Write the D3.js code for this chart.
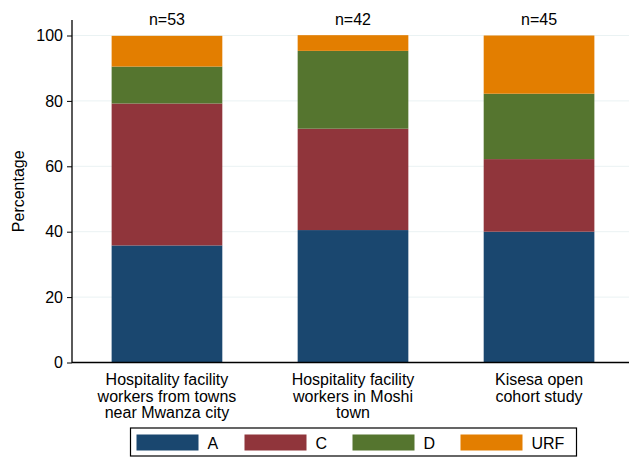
<!DOCTYPE html>
<html>
<head>
<meta charset="utf-8">
<script src="https://cdn.jsdelivr.net/npm/d3@7"></script>
<style>
  body { margin: 0; background: #fff; }
  text { font-family: "Liberation Sans", Arial, sans-serif; fill: #000; }
</style>
</head>
<body>
<script>
// Categories (lines of each axis label) and sample sizes
const groups = ['g1', 'g2', 'g3'];
const groupLabels = [
    ['Hospitality facility', 'workers from towns', 'near Mwanza city'],
    ['Hospitality facility', 'workers in Moshi', 'town'],
    ['Kisesa open', 'cohort study']
];
const sampleSizes = ['n=53', 'n=42', 'n=45'];

// Series (percentages per group)
const seriesNames = ['A', 'C', 'D', 'URF'];
const valuesA = [35.8, 40.5, 40.0];
const valuesC = [43.4, 31.0, 22.2];
const valuesD = [11.3, 23.8, 20.0];
const valuesURF = [9.4, 4.8, 17.8];
const yTicks = [0, 20, 40, 60, 80, 100];

const colors = ['#1a476f', '#90353b', '#55752f', '#e37e00'];

const W = 629, H = 457;
const margin = { top: 20, right: 0, bottom: 95, left: 72 };

const svg = d3.select('body').append('svg')
    .attr('width', W)
    .attr('height', H);

const rows = groups.map((g, i) => ({
    group: g,
    A: valuesA[i], C: valuesC[i], D: valuesD[i], URF: valuesURF[i]
}));
const stacked = d3.stack().keys(seriesNames)(rows);

const x = d3.scaleBand()
    .domain(groups)
    .range([72, 634])
    .paddingInner(0.405)
    .paddingOuter(0.213);

const y = d3.scaleLinear()
    .domain([0, 100])
    .range([362.5, 35.5]);

// gridlines
svg.append('g')
    .selectAll('line')
    .data(yTicks.filter(d => d > 0))
    .enter()
    .append('line')
    .attr('x1', margin.left)
    .attr('x2', W)
    .attr('y1', d => y(d))
    .attr('y2', d => y(d))
    .attr('stroke', '#eaf2f3')
    .attr('stroke-width', 1);

// bars
svg.append('g')
    .selectAll('g')
    .data(stacked)
    .enter()
    .append('g')
    .attr('fill', (d, i) => colors[i])
    .selectAll('rect')
    .data(d => d)
    .enter()
    .append('rect')
    .attr('x', d => x(d.data.group))
    .attr('y', d => y(d[1]))
    .attr('width', x.bandwidth())
    .attr('height', d => y(d[0]) - y(d[1]));

// y axis
const yAxis = svg.append('g')
    .attr('transform', `translate(${margin.left},0)`)
    .call(d3.axisLeft(y).tickValues(yTicks).tickSize(5).tickPadding(4));
yAxis.select('.domain').remove();
yAxis.selectAll('.tick line').attr('stroke', '#000');
yAxis.selectAll('.tick text')
    .style('font-family', '"Liberation Sans", Arial, sans-serif')
    .style('font-size', '16px')
    .attr('fill', '#000');

svg.append('line')
    .attr('x1', margin.left).attr('x2', margin.left)
    .attr('y1', 20).attr('y2', y(0) + 0.5)
    .attr('stroke', '#000').attr('stroke-width', 1.3);

svg.append('line')
    .attr('x1', margin.left).attr('x2', W)
    .attr('y1', y(0)).attr('y2', y(0))
    .attr('stroke', '#000').attr('stroke-width', 1.3);

svg.append('text')
    .attr('transform', `translate(24, ${(20 + 362.5) / 2}) rotate(-90)`)
    .attr('text-anchor', 'middle')
    .style('font-size', '16px')
    .text('Percentage');

// n labels
svg.append('g')
    .selectAll('text')
    .data(groups)
    .enter()
    .append('text')
    .attr('x', d => x(d) + x.bandwidth() / 2)
    .attr('y', 25)
    .attr('text-anchor', 'middle')
    .style('font-size', '16px')
    .text((d, i) => sampleSizes[i]);

// category labels
const cat = svg.append('g')
    .selectAll('text')
    .data(groups)
    .enter()
    .append('text')
    .attr('text-anchor', 'middle')
    .style('font-size', '16px');
cat.selectAll('tspan')
    .data((d, i) => groupLabels[i].map(t => ({ t, g: d })))
    .enter()
    .append('tspan')
    .attr('x', d => x(d.g) + x.bandwidth() / 2)
    .attr('y', (d, j) => 385 + j * 16.5)
    .text(d => d.t);

// legend
const legend = svg.append('g');
legend.append('rect')
    .attr('x', 130.5).attr('y', 428)
    .attr('width', 446).attr('height', 28)
    .attr('fill', '#fff')
    .attr('stroke', '#000')
    .attr('stroke-width', 1.2);

const lx = d3.scalePoint().domain(seriesNames).range([136.5, 460.5]);
const items = legend.selectAll('g.item')
    .data(seriesNames)
    .enter()
    .append('g')
    .attr('class', 'item');
items.append('rect')
    .attr('x', d => lx(d))
    .attr('y', 434.5)
    .attr('width', 62)
    .attr('height', 16)
    .attr('fill', (d, i) => colors[i]);
items.append('text')
    .attr('x', d => lx(d) + 71)
    .attr('y', 448.5)
    .style('font-size', '16px')
    .text(d => d);
</script>
</body>
</html>
